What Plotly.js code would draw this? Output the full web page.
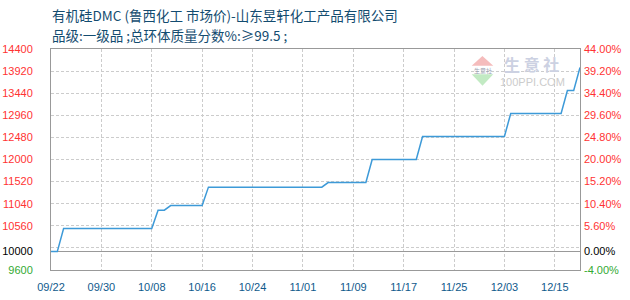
<!DOCTYPE html>
<html>
<head>
<meta charset="utf-8">
<script src="https://cdn.plot.ly/plotly-3.0.1.min.js"></script>
<style>html,body{margin:0;padding:0;background:#fff;}#chart{width:630px;height:300px;}</style>
</head>
<body>
<div id="chart"></div>
<script>
// Day index (one point per trading day, 09/22 = 0) and price corners of the step line
var dayIndex = [0, 1, 2, 16, 17, 18, 19, 24, 25, 43, 44, 50, 51, 58, 59, 72, 73, 81, 82, 83, 84];
var price    = [10000, 10000, 10500, 10500, 10900, 10900, 11000, 11000, 11400, 11400, 11500, 11500, 12000, 12000, 12500, 12500, 13000, 13000, 13500, 13500, 14000];

// X tick labels
var xTickIdx  = [0, 8, 16, 24, 32, 40, 48, 56, 64, 72, 80];
var xTickText = ["09/22", "09/30", "10/08", "10/16", "10/24", "11/01", "11/09", "11/17", "11/25", "12/03", "12/15"];

// Y tick labels
var yTickVals   = [9600, 10000, 10560, 11040, 11520, 12000, 12480, 12960, 13440, 13920, 14400];
var yTickText   = ["9600", "10000", "10560", "11040", "11520", "12000", "12480", "12960", "13440", "13920", "14400"];
var pctTickText = ["-4.00%", "0.00%", "5.60%", "10.40%", "15.20%", "20.00%", "24.80%", "29.60%", "34.40%", "39.20%", "44.00%"];
var gridVals    = [10080, 10560, 11040, 11520, 12000, 12480, 12960, 13440, 13920];
var baseVal     = [10000];

function colorFor(i) { return i === 0 ? "#33aa33" : (i === 1 ? "#000000" : "#ff3333"); }
var leftText  = yTickText.map(function (t, i) { return '<span style="color:' + colorFor(i) + '">' + t + '</span>'; });
var rightText = pctTickText.map(function (t, i) { return '<span style="color:' + colorFor(i) + '">' + t + '</span>'; });

var W = 630, H = 300, L = 51, R = 50, T = 49, B = 30;
var pw = W - L - R, ph = H - T - B;
function px(x) { return (x - L) / pw; }
function py(y) { return (H - B - y) / ph; }

var tickFont = {family: "Liberation Sans, Arial, sans-serif", size: 11};
var yr = [9600, 14400];

var traces = [
  {x: dayIndex, y: price, type: "scatter", mode: "lines", line: {color: "#3d9ad8", width: 1.5}, hoverinfo: "skip", yaxis: "y"},
  {x: dayIndex, y: price, type: "scatter", mode: "lines", line: {width: 0}, opacity: 0, hoverinfo: "skip", yaxis: "y2"},
  {x: dayIndex, y: price, type: "scatter", mode: "lines", line: {width: 0}, opacity: 0, hoverinfo: "skip", yaxis: "y3"},
  {x: dayIndex, y: price, type: "scatter", mode: "lines", line: {width: 0}, opacity: 0, hoverinfo: "skip", yaxis: "y4"}
];

var layout = {
  width: W, height: H,
  margin: {l: L, r: R, t: T, b: B, pad: 0},
  paper_bgcolor: "#ffffff", plot_bgcolor: "#ffffff",
  showlegend: false,
  xaxis: {
    type: "linear", range: [0, 84],
    tickmode: "array", tickvals: xTickIdx, ticktext: xTickText,
    tickfont: {family: tickFont.family, size: 11, color: "#0f5a8c"},
    ticks: "", ticklabelstandoff: 7,
    showgrid: true, gridcolor: "#cccccc", gridwidth: 1, griddash: "3px,2px",
    showline: true, linecolor: "#999999", linewidth: 1, mirror: true,
    zeroline: false, fixedrange: true
  },
  yaxis: {
    range: yr, tickmode: "array", tickvals: yTickVals, ticktext: leftText,
    tickfont: tickFont, ticks: "", ticklabelstandoff: 15,
    showgrid: false, zeroline: false,
    showline: true, linecolor: "#999999", linewidth: 1, mirror: true
  },
  yaxis2: {
    overlaying: "y", side: "right", range: yr,
    tickmode: "array", tickvals: yTickVals, ticktext: rightText,
    tickfont: tickFont, ticks: "", ticklabelstandoff: 3,
    showgrid: false, zeroline: false, showline: false
  },
  yaxis3: {
    overlaying: "y", side: "left", range: yr,
    tickmode: "array", tickvals: gridVals, showticklabels: false, ticks: "",
    showgrid: true, gridcolor: "#cccccc", gridwidth: 1, griddash: "3px,2px",
    zeroline: false, showline: false
  },
  yaxis4: {
    overlaying: "y", side: "left", range: yr,
    tickmode: "array", tickvals: baseVal, showticklabels: false, ticks: "",
    showgrid: true, gridcolor: "#999999", gridwidth: 1,
    zeroline: false, showline: false
  },
  annotations: [
    {xref: "paper", yref: "paper", x: px(50), y: py(15), xanchor: "left", yanchor: "middle", showarrow: false,
     text: "有机硅DMC (鲁西化工 市场价)-山东昱轩化工产品有限公司",
     font: {family: "Noto Sans CJK SC, sans-serif", size: 13.5, color: "#134c70"}},
    {xref: "paper", yref: "paper", x: px(50), y: py(35), xanchor: "left", yanchor: "middle", showarrow: false,
     text: "品级:一级品 ;总环体质量分数%:≥99.5 ;",
     font: {family: "Noto Sans CJK SC, sans-serif", size: 13.5, color: "#134c70"}},
    {xref: "paper", yref: "paper", x: px(531), y: py(64), xanchor: "center", yanchor: "middle", showarrow: false,
     text: "<b>生 意 社</b>", font: {family: "Noto Sans CJK SC, sans-serif", size: 16, color: "#ccd1e2"}},
    {xref: "paper", yref: "paper", x: px(532), y: py(82), xanchor: "center", yanchor: "middle", showarrow: false,
     text: "100PPI.COM", font: {family: "Liberation Sans, sans-serif", size: 11, color: "#cccccc"}},
    {xref: "paper", yref: "paper", x: px(482.5), y: py(70), xanchor: "center", yanchor: "middle", showarrow: false,
     text: "生意社", font: {family: "Noto Sans CJK SC, sans-serif", size: 6, color: "#9aa0b0"}}
  ],
  shapes: [
    {type: "path", xref: "paper", yref: "paper", line: {width: 0}, fillcolor: "#f5bcbc",
     path: "M " + px(482.4) + "," + py(56) + " L " + px(471.7) + "," + py(65.7) + " L " + px(493.3) + "," + py(65.7) + " Z"},
    {type: "path", xref: "paper", yref: "paper", line: {width: 0}, fillcolor: "#c2eac3",
     path: "M " + px(471.7) + "," + py(74.3) + " L " + px(493.3) + "," + py(74.3) + " L " + px(482.5) + "," + py(85.7) + " Z"}
  ]
};

Plotly.newPlot("chart", traces, layout, {staticPlot: true, displayModeBar: false});
</script>
</body>
</html>
